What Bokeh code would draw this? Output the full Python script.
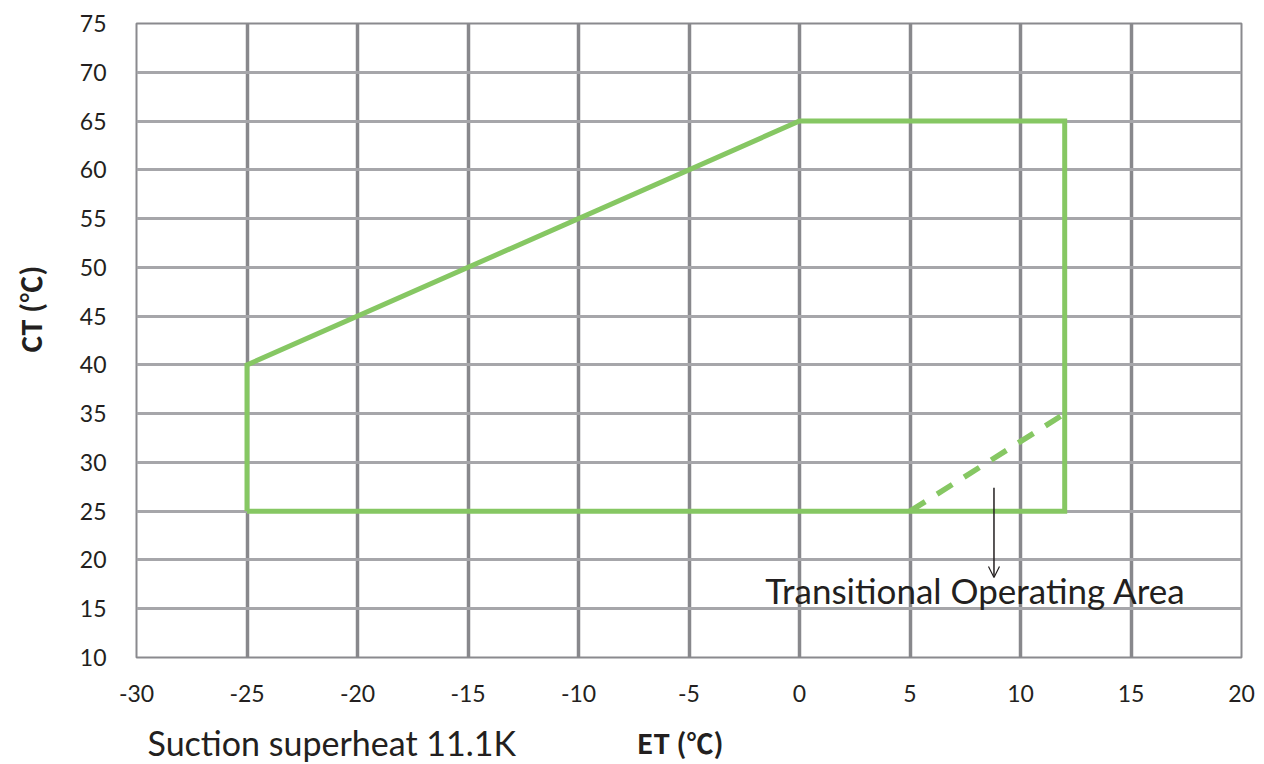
from bokeh.plotting import figure
from bokeh.models import Range1d, FixedTicker, Arrow, OpenHead
from bokeh.layouts import row, column
from bokeh.core.properties import value
from bokeh.embed import file_html
from bokeh.resources import INLINE

# Envelope data (ET, CT)
envelope_et = [-25, -25, 0, 12, 12, -25]
envelope_ct = [25, 40, 65, 65, 25, 25]
# Transitional operating area boundary (dashed)
trans_et = [5, 12]
trans_ct = [25, 35]
# Arrow (annotation) start/end
arrow_et = [8.8, 8.8]
arrow_ct = [27.4, 18.2]
# Ticks
x_ticks = [-30, -25, -20, -15, -10, -5, 0, 5, 10, 15, 20]
x_tick_labels = ["-30", "-25", "-20", "-15", "-10", "-5", "0", "5", "10", "15", "20"]
y_ticks = [10, 15, 20, 25, 30, 35, 40, 45, 50, 55, 60, 65, 70, 75]
y_tick_labels = ["10", "15", "20", "25", "30", "35", "40", "45", "50", "55", "60", "65", "70", "75"]

FONT = "Lato"
FONT_UNIT = "Noto Sans CJK SC"
GREEN = "#86c763"
TXT = "#231f20"

LEFT_W = 60
W, H = 1264, 764
MAIN_H = 709

p = figure(width=W - LEFT_W, height=MAIN_H, output_backend="svg", toolbar_location=None,
           x_range=Range1d(-30, 20), y_range=Range1d(10, 75),
           min_border_left=136 - LEFT_W, min_border_right=23, min_border_top=23,
           min_border_bottom=MAIN_H - 657)
p.background_fill_color = "white"
p.border_fill_color = "white"
p.outline_line_color = "#8a8a8e"
p.outline_line_width = 2

for ax in (p.xaxis, p.yaxis):
    ax.axis_line_color = None
    ax.major_tick_line_color = None
    ax.minor_tick_line_color = None
    ax.major_label_text_font = FONT
    ax.major_label_text_font_size = "23px"
    ax.major_label_text_color = TXT
p.xaxis.ticker = FixedTicker(ticks=x_ticks)
p.yaxis.ticker = FixedTicker(ticks=y_ticks)
p.xaxis.major_label_overrides = {t: s for t, s in zip(x_ticks, x_tick_labels)}
p.yaxis.major_label_overrides = {t: s for t, s in zip(y_ticks, y_tick_labels)}
p.xaxis.major_label_standoff = 21
p.yaxis.major_label_standoff = 24

p.xgrid.ticker = FixedTicker(ticks=x_ticks)
p.ygrid.ticker = FixedTicker(ticks=y_ticks)
p.xgrid.grid_line_color = "#88888c"
p.xgrid.grid_line_width = 3.5
p.ygrid.grid_line_color = "#a6a6aa"
p.ygrid.grid_line_width = 3

p.line(envelope_et, envelope_ct, line_color=GREEN, line_width=5, line_join="miter")
p.line(trans_et, trans_ct, line_color=GREEN, line_width=5.5, line_dash="18 14", line_cap="butt")

p.add_layout(Arrow(end=OpenHead(size=11, line_width=1.2, line_color=TXT),
                   x_start=arrow_et[0], y_start=arrow_ct[0], x_end=arrow_et[1], y_end=arrow_ct[1],
                   line_width=1.5, line_color=TXT))

p.text(x=[-1.55], y=[16.9], text=["Transitional Operating Area"], text_font=value(FONT),
       text_font_size="35px", text_color=TXT, text_baseline="middle", text_align="left")

# Bottom strip with the x-axis title and note (shares the x range)
BOT_H = H - MAIN_H
b = figure(width=W - LEFT_W, height=BOT_H, output_backend="svg", toolbar_location=None,
           x_range=p.x_range, y_range=Range1d(0, BOT_H),
           min_border_left=136 - LEFT_W, min_border_right=23, min_border_top=0, min_border_bottom=0,
           x_axis_type=None, y_axis_type=None)
b.outline_line_color = None
b.grid.visible = False
b.text(x=[-29.5], y=[BOT_H - 33], text=["Suction superheat 11.1K"], text_font=value(FONT),
       text_font_size="34px", text_color=TXT, text_baseline="middle", text_align="left")
b.text(x=[-5.4], y=[BOT_H - 33], text=["ET (℃)"], text_font=value(FONT_UNIT), text_font_style="bold",
       text_font_size="27px", text_color=TXT, text_baseline="middle", text_align="center")

# Left strip with the y-axis title
l = figure(width=LEFT_W, height=H, output_backend="svg", toolbar_location=None,
           x_range=Range1d(0, LEFT_W), y_range=Range1d(0, H),
           min_border_left=0, min_border_right=0, min_border_top=0, min_border_bottom=0,
           x_axis_type=None, y_axis_type=None)
l.outline_line_color = None
l.grid.visible = False
l.text(x=[30], y=[H - 309], text=["CT (℃)"], text_font=value(FONT_UNIT), text_font_style="bold",
       text_font_size="27px", text_color=TXT, text_baseline="middle", text_align="center",
       angle=1.5708)

layout = row(l, column(p, b, spacing=0), spacing=0)
open("out.html", "w").write(file_html(layout, INLINE))
